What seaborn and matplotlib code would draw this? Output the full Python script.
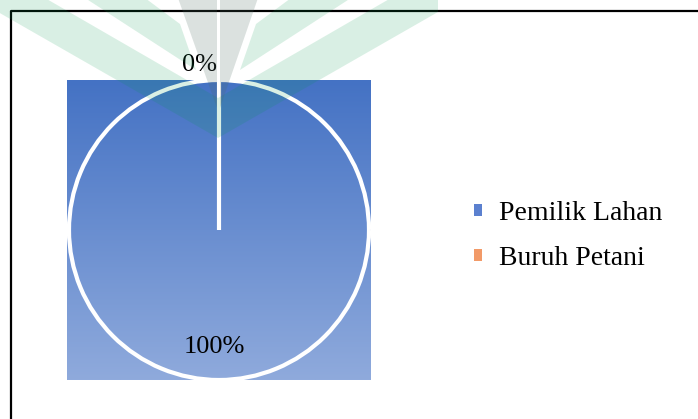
import numpy as np
import matplotlib
matplotlib.use("Agg")
import matplotlib.pyplot as plt
import seaborn as sns
from matplotlib.patches import Patch, Polygon
from matplotlib.lines import Line2D
from matplotlib.colors import LinearSegmentedColormap

sns.set_theme(style="white")
plt.rcParams['font.family'] = ['Liberation Serif', 'DejaVu Serif']
plt.rcParams['text.color'] = 'black'

# ---- data ----
categories = ["Pemilik Lahan", "Buruh Petani"]
values = [100, 0]
pct_labels = ["100%", "0%"]
legend_colors = ["#5b80cf", "#f29a68"]

W, H = 698, 419
fig = plt.figure(figsize=(W / 100, H / 100), dpi=100)
fig.patch.set_facecolor("white")

def px(x, y):
    return (x / W, 1 - y / H)

# pie axes: centre (219, 230) px, radius 150 px
R = 150
cx, cy = 219, 230
lim = 1.02
half = lim * R
ax = fig.add_axes([(cx - half) / W, (H - cy - half) / H, 2 * half / W, 2 * half / H])

# gradient fill (visible over its bounding box, as in the reference)
cmap = LinearSegmentedColormap.from_list("g", ["#4472c4", "#8faadc"])
grad = np.linspace(0, 1, 256).reshape(-1, 1)
ax.imshow(grad, cmap=cmap, aspect="auto", extent=[-1.013, 1.013, -1.0, 1.0],
          origin="upper", zorder=0)

wedges, _ = ax.pie(values, startangle=90, counterclock=False,
                   wedgeprops=dict(facecolor="none", edgecolor="white", linewidth=3.0))
for w in wedges:
    w.set_zorder(2)
ax.set_xlim(-lim, lim)
ax.set_ylim(-lim, lim)
ax.set_aspect("equal")
ax.axis("off")

ax.text(-0.03, -0.78, pct_labels[0], ha="center", va="center", fontsize=19, color="black", zorder=3)
ax.text(-0.13, 1.10, pct_labels[1], ha="center", va="center", fontsize=19, color="black", zorder=3,
        clip_on=False)

# legend
handles = [Patch(facecolor=c, edgecolor="none") for c in legend_colors]
fig.legend(handles, categories, loc="center left", bbox_to_anchor=(474 / W, 1 - 236 / H),
           frameon=False, fontsize=20, handlelength=0.29, handleheight=0.29,
           handletextpad=0.62, labelspacing=0.74, borderpad=0, borderaxespad=0,
           labelcolor="black")

# outer frame (right and bottom edges lie outside the image)
fig.add_artist(Line2D([11 / W, 11 / W, 1.01], [-0.01, 1 - 11 / H, 1 - 11 / H],
                      transform=fig.transFigure, color="black", linewidth=1.6))

# watermark shapes
def mirror(pts):
    return [(436 - x, y) for x, y in pts]

green = (0.0, 0.6, 0.3)
gray = (0.3, 0.42, 0.38)
outer = [(-2, -2), (-2, 12), (218, 138), (218, 98), (45, -2)]
inner = [(85, -2), (145, -2), (180, 24), (196, 70)]
gray_l = [(178, -2), (216.5, -2), (216.5, 108)]
for pts, col, a in [(outer, green, 0.15), (mirror(outer), green, 0.15),
                    (inner, green, 0.15), (mirror(inner), green, 0.15),
                    (gray_l, gray, 0.2), (mirror(gray_l), gray, 0.2)]:
    fig.add_artist(Polygon([px(x, y) for x, y in pts], closed=True,
                           transform=fig.transFigure, facecolor=col, alpha=a,
                           edgecolor="none", zorder=10))

fig.savefig("out.png", dpi=100)
